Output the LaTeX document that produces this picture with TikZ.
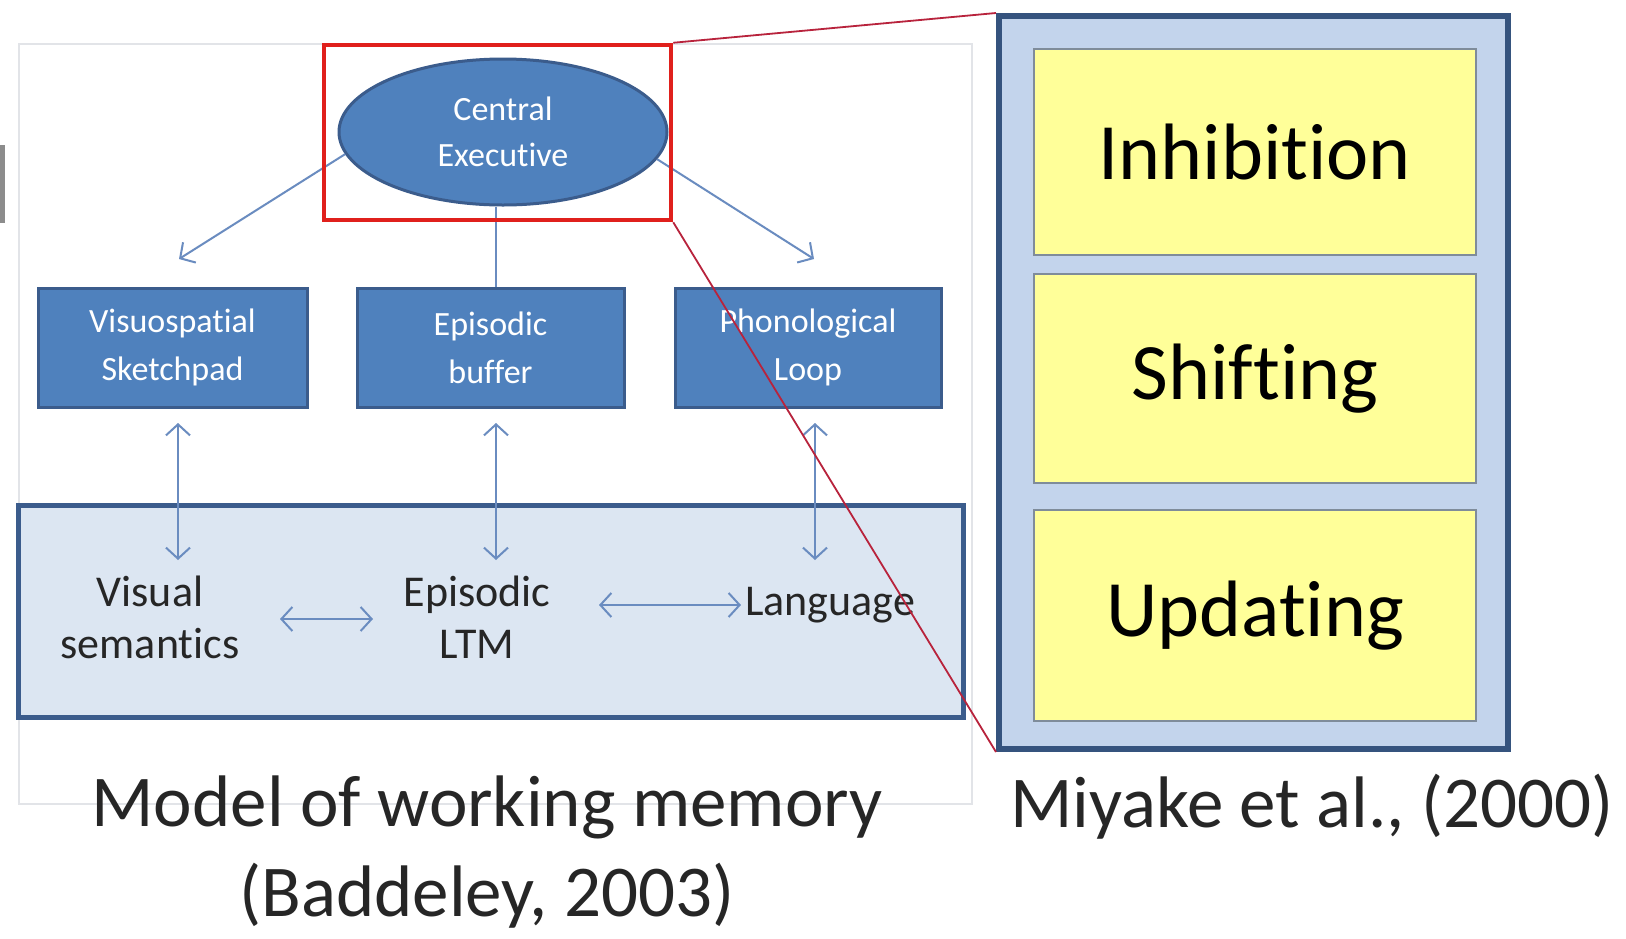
\documentclass[tikz,border=0pt]{standalone}
\usepackage{fontspec}
\setmainfont{Carlito}[Ligatures={NoCommon,NoContextual}]
\usetikzlibrary{arrows.meta,shapes.geometric}
\definecolor{boxblue}{HTML}{4F81BD}
\definecolor{boxedge}{HTML}{3B5C8C}
\definecolor{paleblue}{HTML}{DCE6F2}
\definecolor{midblue}{HTML}{C3D4EC}
\definecolor{yel}{HTML}{FFFF99}
\definecolor{yeledge}{HTML}{7F8C9A}
\definecolor{arrc}{HTML}{6A8CC0}
\definecolor{redbox}{HTML}{E0201C}
\definecolor{redline}{HTML}{B8233C}
\definecolor{framegray}{HTML}{E2E4E8}
\tikzset{
  bluebox/.style={draw=boxedge, line width=3pt, fill=boxblue, minimum height=119pt,
    text=white, align=center, inner sep=0pt, font=\fontsize{34}{48}\selectfont},
  yelbox/.style={draw=yeledge, line width=2.5pt, fill=yel, minimum width=442pt,
    inner sep=0pt, font=\fontsize{80}{90}\selectfont},
  lbl/.style={inner sep=0pt, align=center, text=black!85},
  conn/.style={draw=arrc, line width=2pt},
  barb/.tip={Straight Barb[length=11pt,width=24pt]},
  dbl/.style={conn, barb-barb},
  sgl/.style={conn, -barb},
}
\begin{document}
\begin{tikzpicture}[x=1pt,y=-1pt]
\useasboundingbox (0,0) rectangle (1626,938);
\fill[white] (0,0) rectangle (1626,938);
% left edge artifact
\fill[black!45] (0,145) rectangle (5,223);
% faint frame
\draw[framegray, line width=1.5pt] (19,44) rectangle (972,804);
% bottom LTM box
\node[draw=boxedge, line width=5pt, fill=paleblue, minimum width=945pt, minimum height=212pt] (ltm) at (490.5,611.5) {};
% three component boxes
\node[bluebox, minimum width=269pt] (b1) at (172.5,347.5) {Visuospatial\\Sketchpad};
\node[bluebox, minimum width=267pt] (b2) at (490.5,347.5) {Episodic\\buffer};
\node[bluebox, minimum width=266pt] (b3) at (808,347.5) {Phonological\\Loop};
% central executive
\node[ellipse, draw=boxedge, line width=3pt, fill=boxblue, minimum width=328pt, minimum height=146pt,
  text=white, align=center, inner sep=0pt, font=\fontsize{34}{46}\selectfont] (ce) at (503,132) {Central\\Executive};
% LTM texts
\node[lbl, font=\fontsize{44}{52}\selectfont] (vs) at (150,617) {Visual\\semantics};
\node[lbl, font=\fontsize{44}{52}\selectfont] (el) at (477,617) {Episodic\\LTM};
\node[lbl, font=\fontsize{44}{52}\selectfont] (lang) at (830,605) {Language};
% free ends
\coordinate (e1) at (179,259);
\coordinate (e3) at (814,259);
\coordinate (u1) at (178,423); \coordinate (d1) at (178,560);
\coordinate (u2) at (496,423); \coordinate (d2) at (496,560);
\coordinate (u3) at (815,423); \coordinate (d3) at (815,560);
\coordinate (h1a) at (280,619); \coordinate (h1b) at (373,619);
\coordinate (h2a) at (599,605); \coordinate (h2b) at (741,605);
% connectors
\draw[sgl] (ce.188) -- (e1);
\draw[sgl] (ce.-10) -- (e3);
\draw[conn] (ce.south -| u2) -- (b2.north -| u2);
\draw[dbl] (u1) -- (d1);
\draw[dbl] (u2) -- (d2);
\draw[dbl] (u3) -- (d3);
\draw[dbl] (h1a) -- (h1b);
\draw[dbl] (h2a) -- (h2b);
% red highlight box
\node[draw=redbox, line width=4.5pt, minimum width=347pt, minimum height=175pt, inner sep=0pt] (rb) at (497.5,132.5) {};
% right panel
\node[draw=boxedge!90!black, line width=6pt, fill=midblue, minimum width=509pt, minimum height=733pt] (rp) at (1253.5,382.5) {};
\node[yelbox, minimum height=206pt] (inh) at (1255,152) {Inhibition};
\node[yelbox, minimum height=209pt] (shf) at (1255,378.5) {Shifting};
\node[yelbox, minimum height=211pt] (upd) at (1255,615.5) {Updating};
% zoom lines
\draw[redline, line width=1.8pt] (rb.north east) -- (rp.north west);
\draw[redline, line width=1.8pt] (rb.south east) -- (rp.south west);
% captions
\node[lbl, font=\fontsize{73}{90}\selectfont] (cap1) at (487,852) {Model of working memory\\(Baddeley, 2003)};
\node[lbl, font=\fontsize{73}{90}\selectfont] (cap2) at (1312,807) {Miyake et al., (2000)};
\end{tikzpicture}
\end{document}
